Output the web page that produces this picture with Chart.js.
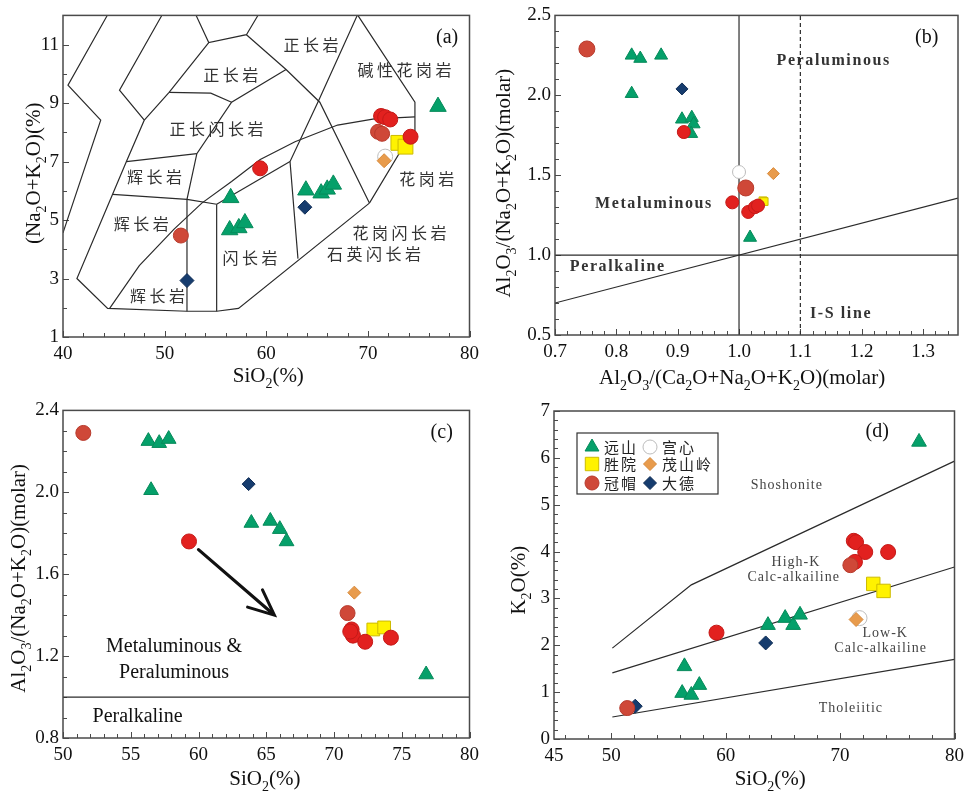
<!DOCTYPE html>
<html>
<head>
<meta charset="utf-8">
<title>Granitoid discrimination diagrams</title>
<script src="https://cdn.jsdelivr.net/npm/chart.js"></script>
<style>
  body { margin: 0; background: #fff; }
  #wrap { position: relative; width: 970px; height: 796px; }
  #wrap canvas { position: absolute; }
</style>
</head>
<body>
<div id="wrap">
  <canvas id="chartA" width="485" height="395" style="left:0;top:0"></canvas>
  <canvas id="chartB" width="485" height="395" style="left:485px;top:0"></canvas>
  <canvas id="chartC" width="485" height="401" style="left:0;top:395px"></canvas>
  <canvas id="chartD" width="485" height="401" style="left:485px;top:395px"></canvas>
</div>
<script>
// ---------- data ----------
// (a) TAS: SiO2 vs Na2O+K2O
const yuanshanSiO2A = [76.9, 56.5, 56.4, 57.3, 57.9, 63.9, 65.4, 66.0, 66.6];
const yuanshanAlkA  = [8.88, 5.76, 4.66, 4.73, 4.90, 6.02, 5.92, 6.05, 6.22];
const shengyuanSiO2A = [73.0, 73.7];
const shengyuanAlkA  = [7.64, 7.51];
const guanmaoSiO2A = [71.3, 71.7, 72.2, 74.2, 59.4];
const guanmaoAlkA  = [8.56, 8.52, 8.44, 7.85, 6.77];
const guanmao2SiO2A = [71.0, 71.4, 51.6];
const guanmao2AlkA  = [8.02, 7.95, 4.47];
const gongxinSiO2A = [71.7];
const gongxinAlkA  = [7.17];
const maoshanSiO2A = [71.6];
const maoshanAlkA  = [7.03];
const dadeSiO2A = [63.8, 52.2];
const dadeAlkA  = [5.44, 2.93];

// (a) classification boundaries [SiO2, Na2O+K2O]
const tasLines = [
  [[44.39, 12.02], [40.49, 9.61], [43.71, 8.42], [40.0, 4.56]],
  [[49.76, 12.02], [45.56, 9.44], [48.0, 8.42], [46.24, 7.0], [44.88, 5.88], [41.37, 3.0], [44.39, 1.98],
   [52.2, 1.88], [55.12, 1.88], [57.27, 1.98], [70.15, 5.58]],
  [[48.0, 8.42], [50.44, 9.37], [54.34, 11.07]],
  [[53.07, 12.02], [54.34, 11.07], [58.05, 11.34], [59.22, 12.02]],
  [[58.05, 11.34], [61.95, 10.15], [65.27, 9.03], [70.15, 5.58]],
  [[61.95, 10.15], [56.59, 9.03], [53.17, 7.27], [52.2, 5.71], [52.2, 1.88]],
  [[50.44, 9.37], [54.54, 9.34], [56.59, 9.03]],
  [[46.24, 7.0], [53.17, 7.27]],
  [[44.88, 5.88], [52.2, 5.71], [55.12, 5.54]],
  [[55.12, 5.54], [55.12, 1.88]],
  [[55.12, 5.54], [62.34, 7.0]],
  [[68.98, 12.02], [65.17, 9.10], [62.34, 7.0], [63.12, 3.68]],
  [[68.98, 12.02], [74.63, 9.03], [74.63, 7.68], [73.07, 7.27], [70.15, 5.58]],
  [[44.59, 1.98], [47.51, 3.44], [50.93, 4.69], [53.66, 5.58], [56.59, 6.32], [59.41, 7.07],
   [62.83, 7.68], [67.02, 8.25], [70.63, 8.46], [74.63, 8.53]]
];
const tasNames = ['正长岩', '正长岩', '碱性花岗岩', '正长闪长岩', '辉长岩', '辉长岩', '辉长岩', '闪长岩', '花岗岩', '花岗闪长岩', '石英闪长岩'];
const tasNameX = [64.4, 56.5, 73.6, 55.1, 49.0, 47.7, 49.3, 58.4, 75.8, 73.1, 70.6];
const tasNameY = [11.0, 9.98, 10.15, 8.12, 6.49, 4.86, 2.42, 3.71, 6.39, 4.56, 3.85];

// (b) A/CNK vs A/NK
const yuanshanAcnkB = [1.018, 0.825, 0.825, 0.839, 0.873, 0.907, 0.923, 0.926, 0.922];
const yuanshanAnkB  = [1.11, 2.01, 2.25, 2.23, 2.25, 1.85, 1.86, 1.82, 1.76];
const shengyuanAcnkB = [1.039, 1.041];
const shengyuanAnkB  = [1.34, 1.335];
const guanmaoAcnkB = [0.910, 0.989, 1.015, 1.026, 1.031];
const guanmaoAnkB  = [1.77, 1.33, 1.27, 1.30, 1.31];
const guanmao2AcnkB = [1.011, 0.752];
const guanmao2AnkB  = [1.42, 2.29];
const gongxinAcnkB = [1.0];
const gongxinAnkB  = [1.52];
const maoshanAcnkB = [1.056];
const maoshanAnkB  = [1.51];
const dadeAcnkB = [0.907];
const dadeAnkB  = [2.04];

// (c) SiO2 vs A/NK
const yuanshanSiO2C = [76.8, 56.5, 56.3, 57.1, 57.8, 63.9, 65.3, 66.0, 66.5];
const yuanshanAnkC  = [1.11, 2.01, 2.25, 2.24, 2.26, 1.85, 1.86, 1.82, 1.76];
const shengyuanSiO2C = [72.9, 73.7];
const shengyuanAnkC  = [1.33, 1.34];
const guanmaoSiO2C = [59.3, 71.3, 71.4, 71.2, 72.3, 74.2];
const guanmaoAnkC  = [1.76, 1.33, 1.30, 1.32, 1.27, 1.29];
const guanmao2SiO2C = [71.0, 51.5];
const guanmao2AnkC  = [1.41, 2.29];
const maoshanSiO2C = [71.5];
const maoshanAnkC  = [1.51];
const dadeSiO2C = [63.7];
const dadeAnkC  = [2.04];
const trendArrowC = [[60.0, 1.72], [65.6, 1.40]];

// (d) SiO2 vs K2O
const yuanshanSiO2D = [76.9, 56.4, 56.2, 57.0, 57.7, 63.7, 65.2, 65.9, 66.5];
const yuanshanK2OD  = [6.34, 1.55, 0.98, 0.94, 1.15, 2.43, 2.58, 2.43, 2.65];
const shengyuanSiO2D = [72.9, 73.8];
const shengyuanK2OD  = [3.31, 3.16];
const guanmaoSiO2D = [59.2, 71.2, 71.4, 72.2, 74.2, 71.3];
const guanmaoK2OD  = [2.27, 4.23, 4.20, 3.99, 3.99, 3.78];
const guanmao2SiO2D = [70.9, 51.4];
const guanmao2K2OD  = [3.71, 0.66];
const gongxinSiO2D = [71.7];
const gongxinK2OD  = [2.58];
const maoshanSiO2D = [71.4];
const maoshanK2OD  = [2.55];
const dadeSiO2D = [63.5, 52.1];
const dadeK2OD  = [2.05, 0.70];
const shoshoniteLine = [[50.1, 1.94], [57.0, 3.29], [80.0, 5.93]];
const highKLine = [[50.1, 1.41], [80.0, 3.67]];
const tholeiiticLine = [[50.1, 0.47], [80.0, 1.70]];

// tick labels
const xTicksA = [40, 50, 60, 70, 80];
const yTicksA = [1, 3, 5, 7, 9, 11];
const xTicksB = [0.7, 0.8, 0.9, 1.0, 1.1, 1.2, 1.3];
const yTicksB = [0.5, 1.0, 1.5, 2.0, 2.5];
const xTicksC = [50, 55, 60, 65, 70, 75, 80];
const yTicksC = [0.8, 1.2, 1.6, 2.0, 2.4];
const xTicksD = [45, 50, 60, 70, 80];
const yTicksD = [0, 1, 2, 3, 4, 5, 6, 7];

// ---------- styles & helpers ----------
const SERIF = "'Liberation Serif', 'Times New Roman', serif";
const CJK = "'Noto Sans CJK SC', sans-serif";
const STYLE = {
  yuanshan:  { pointStyle: 'triangle', backgroundColor: '#05a06a', borderColor: '#068a5a' },
  shengyuan: { pointStyle: 'rect', backgroundColor: '#fff200', borderColor: '#cdbb00' },
  guanmao:   { pointStyle: 'circle', backgroundColor: '#e2211f', borderColor: '#c41a18' },
  guanmao2:  { pointStyle: 'circle', backgroundColor: '#cf4838', borderColor: '#b73a2c' },
  gongxin:   { pointStyle: 'circle', backgroundColor: '#ffffff', borderColor: '#bdbdbd' },
  maoshan:   { pointStyle: 'rectRot', backgroundColor: '#e89b4c', borderColor: '#d78a3c' },
  dade:      { pointStyle: 'rectRot', backgroundColor: '#163c6e', borderColor: '#102d55' }
};
const ORDER = { yuanshan: 2, shengyuan: 3, guanmao: 1, guanmao2: 1, gongxin: 6, maoshan: 4, dade: 2 };
const shapeKey = { triangle: 'tri', rect: 'rect', circle: 'circle', rectRot: 'dia' };

const pts = (xs, ys) => xs.map((x, i) => ({ x, y: ys[i] }));
const poly = pairs => pairs.map(([x, y]) => ({ x, y }));

function series(key, xs, ys, r) {
  const s = STYLE[key];
  return {
    label: key, data: pts(xs, ys), pointStyle: s.pointStyle,
    pointBackgroundColor: s.backgroundColor, pointBorderColor: s.borderColor,
    backgroundColor: s.backgroundColor, borderColor: s.borderColor,
    pointRadius: r[shapeKey[s.pointStyle]], pointBorderWidth: 1, showLine: false, order: ORDER[key]
  };
}
function line(pairs, dash) {
  return { data: poly(pairs), showLine: true, pointRadius: 0, borderColor: '#2b2b2b',
           borderWidth: 1.2, borderDash: dash || [], fill: false, tension: 0, order: 10 };
}

function spaced(ctx, str, x, y, sp) {
  const chars = [...str];
  const w = chars.reduce((s, c) => s + ctx.measureText(c).width, 0) + sp * (chars.length - 1);
  let cx = x - w / 2;
  ctx.textAlign = 'left';
  ctx.textBaseline = 'middle';
  chars.forEach(c => { ctx.fillText(c, cx, y); cx += ctx.measureText(c).width + sp; });
}

function rich(ctx, text, cx, cy, size, rot) {
  const segs = text.split(/(_\d)/).filter(s => s).map(s => s[0] === '_' ? { t: s.slice(1), sub: true } : { t: s, sub: false });
  const fnt = sub => `${sub ? Math.round(size * 0.68) : size}px ${SERIF}`;
  let w = 0;
  segs.forEach(s => { ctx.font = fnt(s.sub); s.w = ctx.measureText(s.t).width; w += s.w; });
  ctx.save();
  ctx.translate(cx, cy);
  ctx.rotate(rot);
  ctx.textAlign = 'left';
  ctx.textBaseline = 'alphabetic';
  ctx.fillStyle = '#111';
  let px = -w / 2;
  const base = size * 0.35;
  segs.forEach(s => { ctx.font = fnt(s.sub); ctx.fillText(s.t, px, base + (s.sub ? size * 0.27 : 0)); px += s.w; });
  ctx.restore();
}

function marker(ctx, key, x, y, r) {
  const s = STYLE[key];
  ctx.fillStyle = s.backgroundColor;
  ctx.strokeStyle = s.borderColor;
  ctx.lineWidth = 1;
  ctx.beginPath();
  if (s.pointStyle === 'circle') ctx.arc(x, y, r, 0, Math.PI * 2);
  else if (s.pointStyle === 'triangle') {
    ctx.moveTo(x, y - r); ctx.lineTo(x + r * 0.866, y + r / 2); ctx.lineTo(x - r * 0.866, y + r / 2); ctx.closePath();
  } else if (s.pointStyle === 'rect') ctx.rect(x - r * 0.707, y - r * 0.707, r * 1.414, r * 1.414);
  else { ctx.moveTo(x, y - r); ctx.lineTo(x + r, y); ctx.lineTo(x, y + r); ctx.lineTo(x - r, y); ctx.closePath(); }
  ctx.fill();
  ctx.stroke();
}

function tickRun(start, step, max) {
  const out = [];
  for (let i = 0; ; i++) {
    const v = +(start + i * step).toFixed(6);
    if (v > max + 1e-9) break;
    out.push(v);
  }
  return out;
}

const decor = {
  id: 'decor',
  beforeDatasetsDraw(chart, args, o) {
    const { ctx, chartArea: a, scales: { x, y } } = chart;
    ctx.save();
    ctx.strokeStyle = '#4a4a4a';
    ctx.lineWidth = 1;
    const isLab = (list, v) => list.some(l => Math.abs(l - v) < 1e-6);
    tickRun(o.xTick[0], o.xTick[1], x.max).forEach(v => {
      const px = Math.round(x.getPixelForValue(v)) + 0.5;
      ctx.beginPath(); ctx.moveTo(px, a.bottom); ctx.lineTo(px, a.bottom - (isLab(o.xLab, v) ? 6 : 4)); ctx.stroke();
    });
    tickRun(o.yTick[0], o.yTick[1], y.max).forEach(v => {
      const py = Math.round(y.getPixelForValue(v)) + 0.5;
      ctx.beginPath(); ctx.moveTo(a.left, py); ctx.lineTo(a.left + (isLab(o.yLab, v) ? 6 : 4), py); ctx.stroke();
    });
    (o.texts || []).forEach(t => {
      ctx.font = t.font;
      ctx.fillStyle = t.color || '#222';
      spaced(ctx, t.text, x.getPixelForValue(t.x), y.getPixelForValue(t.y), t.sp || 0);
    });
    ctx.restore();
  },
  afterDatasetsDraw(chart, args, o) {
    const { ctx, chartArea: a, scales: { x, y } } = chart;
    ctx.save();
    ctx.strokeStyle = '#4a4a4a';
    ctx.lineWidth = 1.5;
    ctx.strokeRect(a.left, a.top, a.right - a.left, a.bottom - a.top);
    rich(ctx, o.xTitle.text, x.getPixelForValue(o.xTitle.at), a.bottom + o.xTitle.off, o.titleSize, 0);
    rich(ctx, o.yTitle.text, a.left - o.yTitle.off, y.getPixelForValue(o.yTitle.at), o.titleSize, -Math.PI / 2);
    if (o.arrow) {
      const x1 = x.getPixelForValue(o.arrow[0][0]), y1 = y.getPixelForValue(o.arrow[0][1]);
      const x2 = x.getPixelForValue(o.arrow[1][0]), y2 = y.getPixelForValue(o.arrow[1][1]);
      const ang = Math.atan2(y2 - y1, x2 - x1);
      ctx.strokeStyle = '#111';
      ctx.lineWidth = 3.2;
      ctx.lineCap = 'round';
      ctx.beginPath(); ctx.moveTo(x1, y1); ctx.lineTo(x2 - 4 * Math.cos(ang), y2 - 4 * Math.sin(ang)); ctx.stroke();
      ctx.lineWidth = 3;
      ctx.lineJoin = 'miter';
      ctx.beginPath();
      ctx.moveTo(x2 - 28 * Math.cos(ang - 0.42), y2 - 28 * Math.sin(ang - 0.42));
      ctx.lineTo(x2, y2);
      ctx.lineTo(x2 - 28 * Math.cos(ang + 0.42), y2 - 28 * Math.sin(ang + 0.42));
      ctx.stroke();
    }
    if (o.legend) {
      const L = o.legend;
      const bx = a.left + L.dx, by = a.top + L.dy;
      ctx.fillStyle = '#fff';
      ctx.fillRect(bx, by, L.w, L.h);
      ctx.strokeStyle = '#333';
      ctx.lineWidth = 1.2;
      ctx.strokeRect(bx, by, L.w, L.h);
      L.items.forEach((it, i) => {
        const col = i % 2, row = Math.floor(i / 2);
        const mx = bx + L.colX[col], my = by + L.rowY[row];
        marker(ctx, it.key, mx, my, L.r[shapeKey[STYLE[it.key].pointStyle]]);
        ctx.font = `15px ${CJK}`;
        ctx.fillStyle = '#222';
        const chars = [...it.text];
        const w = chars.reduce((s, c) => s + ctx.measureText(c).width, 0) + 2 * (chars.length - 1);
        spaced(ctx, it.text, mx + 12 + w / 2, my, 2);
      });
    }
    ctx.restore();
  }
};

function panel(id, box, xs, ys, datasets, deco) {
  const fmt = d => v => Number(v).toFixed(d);
  return new Chart(document.getElementById(id), {
    type: 'scatter',
    data: { datasets },
    options: {
      responsive: false,
      animation: false,
      events: [],
      layout: { padding: { top: box.top, right: box.w - box.right, left: 0, bottom: 0 } },
      plugins: { legend: { display: false }, tooltip: { enabled: false }, decor: deco },
      scales: {
        x: {
          type: 'linear', min: xs.min, max: xs.max,
          grid: { display: false, drawTicks: false }, border: { display: false },
          afterBuildTicks: s => { s.ticks = xs.labels.map(v => ({ value: v })); },
          afterFit: s => { s.height = box.h - box.bottom; },
          ticks: { autoSkip: false, maxRotation: 0, padding: 6, color: '#111',
                   font: { family: SERIF, size: 19 }, callback: fmt(xs.dec) }
        },
        y: {
          type: 'linear', min: ys.min, max: ys.max,
          grid: { display: false, drawTicks: false }, border: { display: false },
          afterBuildTicks: s => { s.ticks = ys.labels.map(v => ({ value: v })); },
          afterFit: s => { s.width = box.left; },
          ticks: { autoSkip: false, padding: 4, color: '#111',
                   font: { family: SERIF, size: 19 }, callback: fmt(ys.dec) }
        }
      }
    },
    plugins: [decor]
  });
}

// ---------- (a) ----------
const rA = { circle: 7.5, tri: 9.5, rect: 10.5, dia: 7 };
panel('chartA', { w: 485, h: 395, left: 63, top: 12, right: 473, bottom: 337 },
  { min: 40, max: 80, labels: xTicksA, dec: 0 }, { min: 1, max: 12, labels: yTicksA, dec: 0 },
  [
    ...tasLines.map(l => line(l)),
    series('yuanshan', yuanshanSiO2A, yuanshanAlkA, rA),
    series('shengyuan', shengyuanSiO2A, shengyuanAlkA, rA),
    series('guanmao2', guanmao2SiO2A, guanmao2AlkA, rA),
    series('guanmao', guanmaoSiO2A, guanmaoAlkA, rA),
    series('gongxin', gongxinSiO2A, gongxinAlkA, rA),
    series('maoshan', maoshanSiO2A, maoshanAlkA, rA),
    series('dade', dadeSiO2A, dadeAlkA, rA)
  ],
  {
    xTick: [40, 2], yTick: [1, 1], xLab: xTicksA, yLab: yTicksA, titleSize: 21,
    xTitle: { text: 'SiO_2(%)', at: 60.2, off: 38 },
    yTitle: { text: '(Na_2O+K_2O)(%)', at: 6.6, off: 30 },
    texts: [
      ...tasNames.map((t, i) => ({ text: t, x: tasNameX[i], y: tasNameY[i], font: `16px ${CJK}`, color: '#333', sp: 3.5 })),
      { text: '(a)', x: 77.8, y: 11.24, font: `20px ${SERIF}`, color: '#111' }
    ]
  });

// ---------- (b) ----------
const rB = { circle: 6.5, tri: 7.5, rect: 5.5, dia: 6 };
const bigB = { circle: 8, tri: 7.5, rect: 5.5, dia: 6 };
panel('chartB', { w: 485, h: 395, left: 70, top: 12, right: 473, bottom: 335 },
  { min: 0.7, max: 1.357, labels: xTicksB, dec: 1 }, { min: 0.5, max: 2.5, labels: yTicksB, dec: 1 },
  [
    line([[1.0, 0.5], [1.0, 2.5]]),
    line([[1.1, 0.5], [1.1, 2.5]], [4, 3]),
    line([[0.7, 1.0], [1.357, 1.0]]),
    line([[0.7, 0.7], [1.357, 1.357]]),
    series('yuanshan', yuanshanAcnkB, yuanshanAnkB, rB),
    series('shengyuan', shengyuanAcnkB, shengyuanAnkB, rB),
    series('guanmao2', guanmao2AcnkB, guanmao2AnkB, bigB),
    series('guanmao', guanmaoAcnkB, guanmaoAnkB, rB),
    series('gongxin', gongxinAcnkB, gongxinAnkB, rB),
    series('maoshan', maoshanAcnkB, maoshanAnkB, rB),
    series('dade', dadeAcnkB, dadeAnkB, rB)
  ],
  {
    xTick: [0.7, 0.02], yTick: [0.5, 0.1], xLab: xTicksB, yLab: yTicksB, titleSize: 21,
    xTitle: { text: 'Al_2O_3/(Ca_2O+Na_2O+K_2O)(molar)', at: 1.005, off: 42 },
    yTitle: { text: 'Al_2O_3/(Na_2O+K_2O)(molar)', at: 1.45, off: 52 },
    texts: [
      { text: 'Peraluminous', x: 1.153, y: 2.216, font: `bold 16px ${SERIF}`, color: '#333', sp: 1.6 },
      { text: 'Metaluminous', x: 0.86, y: 1.32, font: `bold 16px ${SERIF}`, color: '#333', sp: 1.6 },
      { text: 'Peralkaline', x: 0.801, y: 0.926, font: `bold 16px ${SERIF}`, color: '#333', sp: 1.6 },
      { text: 'I-S line', x: 1.165, y: 0.63, font: `bold 16px ${SERIF}`, color: '#333', sp: 1.6 },
      { text: '(b)', x: 1.306, y: 2.36, font: `20px ${SERIF}`, color: '#111' }
    ]
  });

// ---------- (c) ----------
const rC = { circle: 7.5, tri: 8.5, rect: 9, dia: 6.5 };
panel('chartC', { w: 485, h: 401, left: 63, top: 15, right: 473, bottom: 343 },
  { min: 50, max: 80, labels: xTicksC, dec: 0 }, { min: 0.8, max: 2.4, labels: yTicksC, dec: 1 },
  [
    line([[50, 1.0], [80, 1.0]]),
    series('yuanshan', yuanshanSiO2C, yuanshanAnkC, rC),
    series('shengyuan', shengyuanSiO2C, shengyuanAnkC, rC),
    series('guanmao2', guanmao2SiO2C, guanmao2AnkC, rC),
    series('guanmao', guanmaoSiO2C, guanmaoAnkC, rC),
    series('maoshan', maoshanSiO2C, maoshanAnkC, rC),
    series('dade', dadeSiO2C, dadeAnkC, rC)
  ],
  {
    xTick: [50, 1], yTick: [0.8, 0.1], xLab: xTicksC, yLab: yTicksC, titleSize: 21,
    xTitle: { text: 'SiO_2(%)', at: 64.9, off: 40 },
    yTitle: { text: 'Al_2O_3/(Na_2O+K_2O)(molar)', at: 1.58, off: 45 },
    arrow: trendArrowC,
    texts: [
      { text: 'Metaluminous &', x: 58.2, y: 1.245, font: `20px ${SERIF}`, color: '#111' },
      { text: 'Peraluminous', x: 58.2, y: 1.12, font: `20px ${SERIF}`, color: '#111' },
      { text: 'Peralkaline', x: 55.5, y: 0.905, font: `20px ${SERIF}`, color: '#111' },
      { text: '(c)', x: 77.95, y: 2.29, font: `20px ${SERIF}`, color: '#111' }
    ]
  });

// ---------- (d) ----------
const rD = { circle: 7.5, tri: 8.5, rect: 9.5, dia: 7 };
panel('chartD', { w: 485, h: 401, left: 69, top: 16, right: 473, bottom: 344 },
  { min: 45, max: 80, labels: xTicksD, dec: 0 }, { min: 0, max: 7, labels: yTicksD, dec: 0 },
  [
    line(shoshoniteLine),
    line(highKLine),
    line(tholeiiticLine),
    series('yuanshan', yuanshanSiO2D, yuanshanK2OD, rD),
    series('shengyuan', shengyuanSiO2D, shengyuanK2OD, rD),
    series('guanmao2', guanmao2SiO2D, guanmao2K2OD, rD),
    series('guanmao', guanmaoSiO2D, guanmaoK2OD, rD),
    series('gongxin', gongxinSiO2D, gongxinK2OD, rD),
    series('maoshan', maoshanSiO2D, maoshanK2OD, rD),
    series('dade', dadeSiO2D, dadeK2OD, rD)
  ],
  {
    xTick: [46, 2], yTick: [0, 0.2], xLab: xTicksD, yLab: yTicksD, titleSize: 21,
    xTitle: { text: 'SiO_2(%)', at: 63.9, off: 39 },
    yTitle: { text: 'K_2O(%)', at: 3.39, off: 36 },
    texts: [
      { text: 'Shoshonite', x: 65.3, y: 5.42, font: `14px ${SERIF}`, color: '#444', sp: 1 },
      { text: 'High-K', x: 66.1, y: 3.76, font: `14px ${SERIF}`, color: '#444', sp: 1 },
      { text: 'Calc-alkailine', x: 65.9, y: 3.44, font: `14px ${SERIF}`, color: '#444', sp: 1 },
      { text: 'Low-K', x: 73.9, y: 2.26, font: `14px ${SERIF}`, color: '#444', sp: 1 },
      { text: 'Calc-alkailine', x: 73.5, y: 1.94, font: `14px ${SERIF}`, color: '#444', sp: 1 },
      { text: 'Tholeiitic', x: 70.9, y: 0.66, font: `14px ${SERIF}`, color: '#444', sp: 1 },
      { text: '(d)', x: 73.25, y: 6.55, font: `20px ${SERIF}`, color: '#111' }
    ],
    legend: {
      dx: 23, dy: 22, w: 141, h: 61, colX: [15, 73], rowY: [14, 31, 50],
      r: { circle: 7, tri: 8, rect: 9.5, dia: 6.5 },
      items: [
        { key: 'yuanshan', text: '远山' }, { key: 'gongxin', text: '宫心' },
        { key: 'shengyuan', text: '胜院' }, { key: 'maoshan', text: '茂山岭' },
        { key: 'guanmao2', text: '冠帽' }, { key: 'dade', text: '大德' }
      ]
    }
  });
</script>
</body>
</html>
